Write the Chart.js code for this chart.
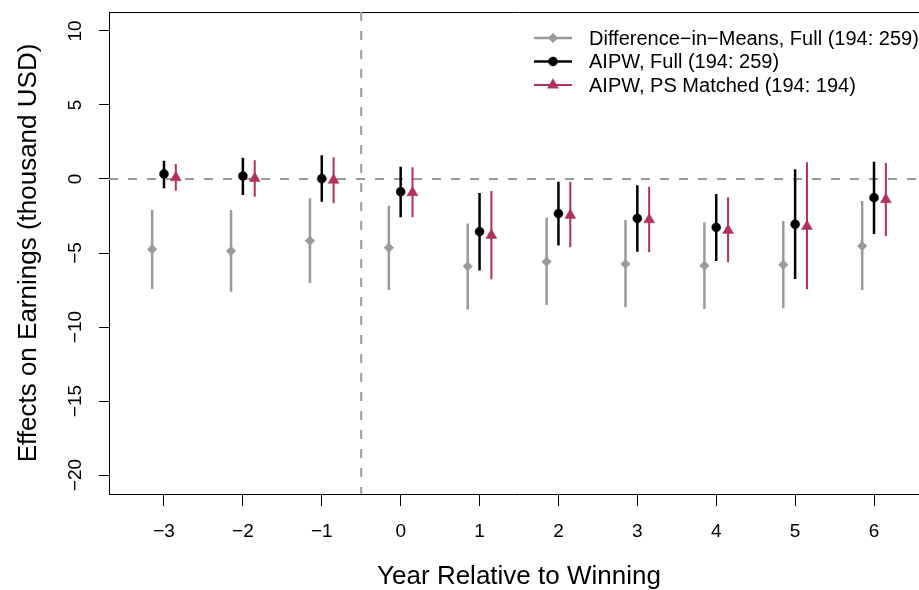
<!DOCTYPE html>
<html><head><meta charset="utf-8">
<script src="https://cdn.jsdelivr.net/npm/chart.js@4/dist/chart.umd.min.js"></script>
<style>html,body{margin:0;padding:0;overflow:hidden;background:#fff;width:919px;height:590px}canvas{display:block}</style>
</head><body>
<canvas id="c" width="940" height="590"></canvas>
<script>
// ---- data ----
const years = [-3, -2, -1, 0, 1, 2, 3, 4, 5, 6];
const yTickValues = [-20, -15, -10, -5, 0, 5, 10];
const dimEst = [-4.75, -4.86, -4.17, -4.64, -5.90, -5.59, -5.74, -5.86, -5.79, -4.53];
const dimLo  = [-7.43, -7.61, -7.03, -7.50, -8.81, -8.51, -8.67, -8.78, -8.74, -7.50];
const dimHi  = [-2.09, -2.09, -1.30, -1.80, -3.00, -2.61, -2.77, -2.93, -2.84, -1.49];
const aipwEst = [0.34, 0.20, 0.02, -0.86, -3.56, -2.34, -2.66, -3.27, -3.06, -1.26];
const aipwLo  = [-0.63, -1.08, -1.53, -2.59, -6.19, -4.50, -4.91, -5.54, -6.76, -3.72];
const aipwHi  = [1.24, 1.44, 1.60, 0.83, -0.95, -0.18, -0.43, -1.01, 0.65, 1.17];
const psEst = [0.09, 0.04, -0.08, -0.92, -3.80, -2.45, -2.75, -3.47, -3.20, -1.39];
const psLo  = [-0.79, -1.20, -1.64, -2.59, -6.78, -4.62, -4.95, -5.63, -7.45, -3.85];
const psHi  = [1.01, 1.26, 1.47, 0.79, -0.81, -0.18, -0.52, -1.24, 1.13, 1.08];
const seriesNames = ["Difference\u2212in\u2212Means, Full (194: 259)", "AIPW, Full (194: 259)", "AIPW, PS Matched (194: 194)"];
const refY = 0;
const refX = -0.5;
const xTitle = "Year Relative to Winning";
const yTitle = "Effects on Earnings (thousand USD)";

// ---- styles ----
const GREY = '#9a9a9a', BLACK = '#000000', RED = '#b03060';
const FONT = "'Liberation Sans', Arial, Helvetica, sans-serif";
const styles = [
  {color: GREY, off: -0.15, lw: 2.5, ps: 'rectRot', r: 4.8},
  {color: BLACK, off: 0, lw: 2.5, ps: 'circle', r: 4.5},
  {color: RED, off: 0.15, lw: 2, ps: 'triangle', r: 6.3}
];
const fmt = v => (v < 0 ? '\u2212' + Math.abs(v) : String(v));

function ciData(lo, hi, off) {
  const d = [];
  years.forEach((x, i) => { d.push({x: x + off, y: lo[i]}); d.push({x: x + off, y: hi[i]}); d.push({x: x + off, y: null}); });
  return d;
}
function ptData(est, off) { return years.map((x, i) => ({x: x + off, y: est[i]})); }

const est = [dimEst, aipwEst, psEst], lo = [dimLo, aipwLo, psLo], hi = [dimHi, aipwHi, psHi];
const datasets = [];
for (let s = 0; s < 3; s++) {
  const st = styles[s];
  datasets.push({type: 'line', data: ciData(lo[s], hi[s], st.off), showLine: true, spanGaps: false,
    borderColor: st.color, borderWidth: st.lw, pointRadius: 0, borderCapStyle: 'butt', order: 10 - s});
  datasets.push({type: 'scatter', data: ptData(est[s], st.off), pointStyle: st.ps, pointRadius: st.r,
    backgroundColor: st.color, borderColor: st.color, borderWidth: 0.5, order: 5 - s});
}

const X_MIN = -3.697, X_MAX = 6.697, Y_MIN = -21.28, Y_MAX = 11.28;

const extras = {
  id: 'extras',
  beforeDatasetsDraw(chart) {
    const {ctx, chartArea: a, scales: {x, y}} = chart;
    ctx.save();
    ctx.beginPath(); ctx.rect(a.left, a.top, a.right - a.left, a.bottom - a.top); ctx.clip();
    ctx.strokeStyle = GREY; ctx.lineWidth = 2; ctx.setLineDash([9, 10]);
    const py = y.getPixelForValue(refY);
    ctx.beginPath(); ctx.moveTo(a.left, py); ctx.lineTo(a.right, py); ctx.stroke();
    const px = x.getPixelForValue(refX);
    ctx.beginPath(); ctx.moveTo(px, a.top); ctx.lineTo(px, a.bottom); ctx.stroke();
    ctx.restore();
  },
  afterDraw(chart) {
    const {ctx, scales: {y}} = chart;
    ctx.save();
    // rotated y tick labels
    ctx.fillStyle = '#000'; ctx.font = '19px ' + FONT; ctx.textAlign = 'center'; ctx.textBaseline = 'middle';
    yTickValues.forEach(v => {
      ctx.save(); ctx.translate(76, y.getPixelForValue(v)); ctx.rotate(-Math.PI / 2);
      ctx.fillText(fmt(v), 0, 0); ctx.restore();
    });
    // legend
    for (let s = 0; s < 3; s++) {
      const st = styles[s]; const ly = 38 + s * 23.5;
      ctx.strokeStyle = st.color; ctx.lineWidth = st.lw; ctx.setLineDash([]);
      ctx.beginPath(); ctx.moveTo(534, ly); ctx.lineTo(572, ly); ctx.stroke();
      ctx.fillStyle = st.color; ctx.lineWidth = 0.5;
      Chart.helpers.drawPoint(ctx, {pointStyle: st.ps, radius: st.r, rotation: 0, borderWidth: 0.5}, 553, ly);
      ctx.fillStyle = '#000'; ctx.font = '20px ' + FONT; ctx.textAlign = 'left'; ctx.textBaseline = 'middle';
      ctx.fillText(seriesNames[s], 589, ly + 1);
    }
    ctx.restore();
  }
};

new Chart(document.getElementById('c'), {
  type: 'scatter',
  data: {datasets},
  options: {
    responsive: false, animation: false, devicePixelRatio: 1, events: [],
    layout: {padding: {top: 12, right: 11, left: 0, bottom: 0}},
    plugins: {legend: {display: false}, tooltip: {enabled: false}},
    scales: {
      x: {type: 'linear', position: 'bottom', min: X_MIN, max: X_MAX,
        afterBuildTicks: s => { s.ticks = years.map(v => ({value: v})); },
        afterFit: s => { s.height = 96; },
        ticks: {callback: v => fmt(v), font: {size: 19, family: FONT}, color: '#000', padding: 14, maxRotation: 0, autoSkip: false},
        grid: {drawOnChartArea: false, drawTicks: true, tickLength: 12, color: '#000', lineWidth: 1},
        border: {color: '#000', width: 1},
        title: {display: true, text: xTitle, font: {size: 26, family: FONT, lineHeight: 1}, color: '#000', padding: {top: 0, bottom: 0}}
      },
      x2: {type: 'linear', position: 'top', min: X_MIN, max: X_MAX,
        afterFit: s => { s.height = 0; },
        ticks: {display: false}, grid: {display: false, drawTicks: false},
        border: {color: '#000', width: 1}
      },
      y: {type: 'linear', position: 'left', min: Y_MIN, max: Y_MAX,
        afterBuildTicks: s => { s.ticks = yTickValues.map(v => ({value: v})); },
        afterFit: s => { s.width = 109; },
        ticks: {display: false},
        grid: {drawOnChartArea: false, drawTicks: true, tickLength: 10, color: '#000', lineWidth: 1},
        border: {color: '#000', width: 1},
        title: {display: true, text: yTitle, font: {size: 26, family: FONT, lineHeight: 1}, color: '#000', padding: {top: 16, bottom: 0}}
      }
    }
  },
  plugins: [extras]
});
</script>
</body></html>
